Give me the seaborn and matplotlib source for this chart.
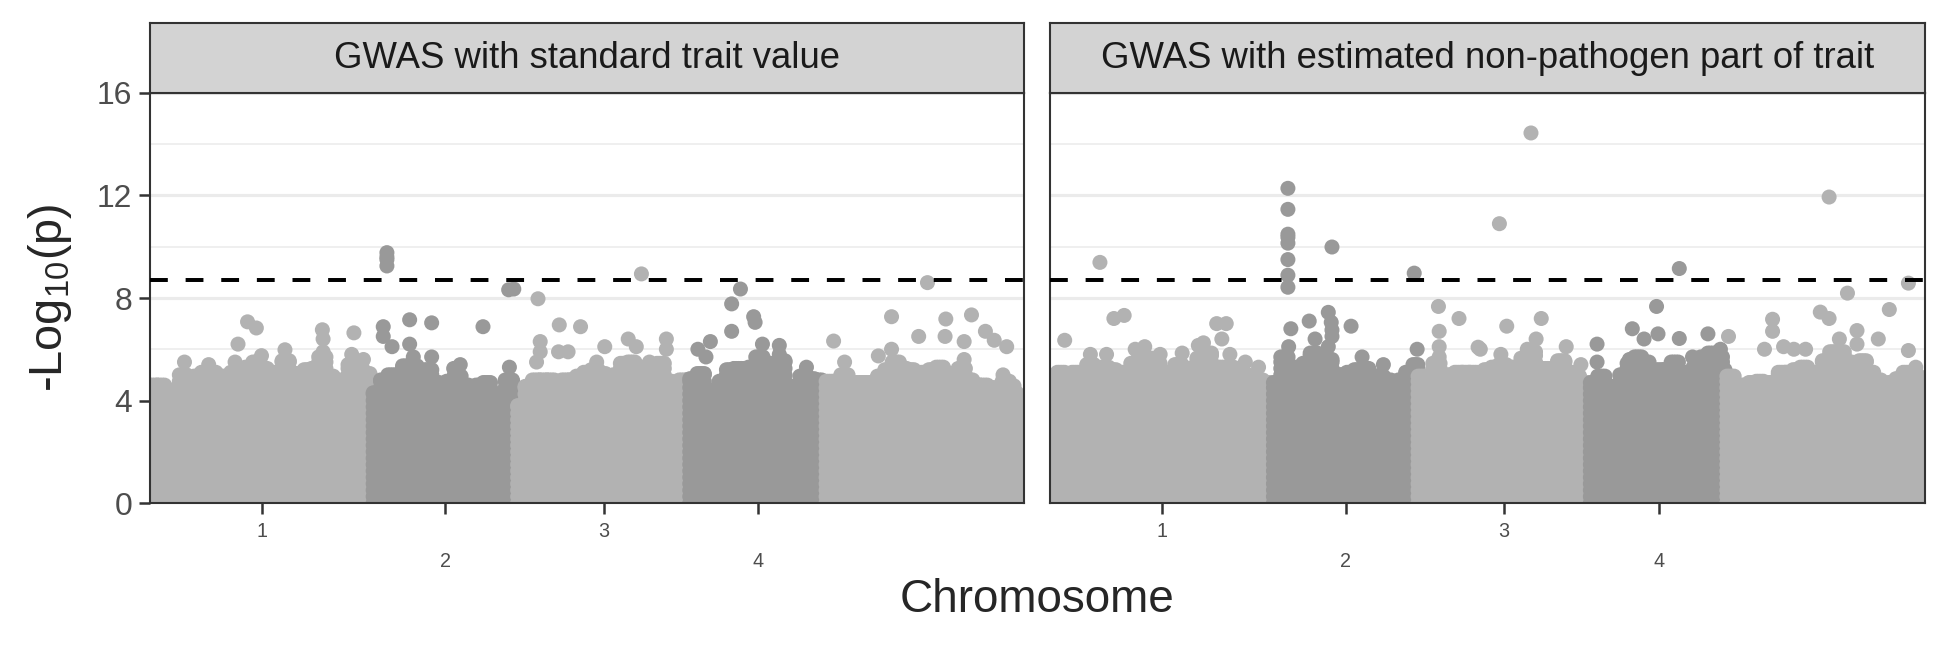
import numpy as np
import pandas as pd
import matplotlib
matplotlib.use("Agg")
import matplotlib.pyplot as plt
import matplotlib.transforms as mtransforms
import seaborn as sns

# Arabidopsis chromosome lengths (Mb)
chrom_len = [30.43, 19.70, 23.46, 18.59, 26.98]
tick_labels = ['1', '2', '3', '4']
threshold = 8.7
panel_titles = ['GWAS with standard trait value',
                'GWAS with estimated non-pathogen part of trait']

# top edge of the dense cloud of SNPs, one value per 1 Mb window, per chromosome
std_band = [
    [5.1, 5.1, 4.9, 4.9, 5.5, 5.3, 5.45, 5.6, 5.6, 5.45, 5.05, 5.6, 5.75, 5.8, 6.0, 5.75,
     5.5, 5.6, 6.05, 5.55, 5.55, 5.7, 5.75, 6.2, 5.45, 5.25, 5.3, 5.9, 5.75, 5.55, 5.05],
    [4.8, 5.3, 5.5, 5.3, 5.85, 5.85, 5.5, 5.7, 5.2, 4.9, 5.25, 5.45, 5.1, 5.05, 5.1, 5.2,
     4.75, 4.3, 5.3, 4.35],
    [4.3, 5.05, 5.3, 5.3, 5.3, 5.25, 5.3, 5.3, 5.45, 5.6, 5.7, 5.55, 5.45, 5.5, 5.95, 6.0,
     5.8, 5.5, 5.3, 5.95, 5.25, 5.1, 5.3, 5.3],
    [5.35, 5.55, 4.9, 4.9, 5.25, 5.7, 5.75, 5.75, 5.8, 6.2, 5.95, 5.75, 6.05, 4.9, 5.05,
     5.45, 5.35, 5.3, 5.2],
    [5.25, 5.2, 5.5, 5.1, 5.2, 5.2, 5.1, 5.45, 5.7, 6.0, 5.75, 5.7, 5.5, 5.6, 5.7, 5.8,
     5.45, 5.55, 5.75, 5.3, 5.1, 5.1, 5.0, 4.9, 5.25, 4.8, 4.3],
]
npp_band = [
    [5.0, 5.6, 5.2, 5.6, 5.5, 5.9, 5.7, 5.8, 5.7, 5.6, 5.45, 5.95, 6.15, 6.15, 5.95, 5.45,
     5.6, 5.9, 5.75, 5.5, 6.15, 6.35, 5.75, 5.8, 5.8, 5.3, 5.5, 5.35, 5.3, 5.2, 5.1],
    [5.2, 6.2, 5.8, 5.7, 5.95, 6.35, 6.15, 6.1, 5.5, 5.5, 5.6, 5.7, 5.75, 5.45, 5.45, 5.3,
     5.1, 5.3, 5.6, 5.9],
    [5.45, 5.05, 5.95, 5.45, 5.5, 5.6, 5.6, 5.6, 5.45, 5.7, 5.8, 5.9, 5.8, 5.5, 6.15, 6.4,
     5.7, 5.75, 5.6, 6.05, 5.6, 5.45, 5.2, 4.95],
    [5.2, 5.45, 4.95, 5.05, 5.5, 5.95, 6.2, 6.0, 5.6, 5.7, 5.7, 6.0, 5.6, 5.55, 5.8, 6.2,
     6.35, 6.2, 5.7],
    [5.45, 5.05, 5.1, 5.2, 5.25, 5.2, 5.2, 5.6, 5.6, 5.7, 5.8, 5.45, 5.6, 6.05, 6.4, 6.4,
     6.0, 5.6, 6.05, 5.6, 5.3, 5.1, 5.2, 5.35, 5.6, 5.5, 5.0],
]

# SNPs standing out above the cloud: cumulative position (Mb) and -log10(p)
std_pos = [13.3, 14.5, 12.0, 4.7, 23.5, 23.6, 27.8, 18.4, 27.5, 11.6, 15.2, 8.0, 29.1, 23.6,
           32.3, 32.3, 32.3, 32.3, 31.8, 31.8, 33.0, 35.4, 35.4, 35.9, 38.4, 38.4, 42.3,
           45.4, 48.9, 49.6, 49.0, 49.0, 41.4,
           52.9, 53.2, 53.2, 52.7, 55.8, 55.7, 57.0, 58.7, 62.0, 65.2, 66.3, 70.4, 70.4,
           67.0, 60.9, 68.1,
           74.7, 76.4, 75.8, 79.3, 79.3, 80.5, 82.3, 82.5, 83.5, 85.8, 85.8, 89.5,
           93.2, 94.7, 99.3, 101.1, 101.1, 104.8, 106.0, 108.4, 108.5, 111.0, 111.0,
           112.0, 113.9, 115.1, 116.8, 116.3, 117.8]
std_val = [7.07, 6.83, 6.2, 5.5, 6.76, 6.4, 6.64, 5.98, 5.8, 5.5, 5.75, 5.4, 5.6, 5.9,
           9.77, 9.6, 9.5, 9.25, 6.88, 6.5, 6.1, 7.15, 6.2, 5.7, 7.03, 5.7, 5.4,
           6.88, 8.32, 8.35, 5.3, 4.7, 5.25,
           7.97, 6.3, 5.9, 5.5, 6.95, 5.9, 5.9, 6.88, 6.1, 6.4, 6.1, 6.4, 6.0,
           8.94, 5.5, 5.5,
           6.0, 6.3, 5.7, 7.77, 6.7, 8.35, 7.27, 7.05, 6.2, 6.15, 5.8, 5.3,
           6.32, 5.5, 5.74, 7.27, 6.0, 6.5, 8.6, 6.5, 7.18, 6.3, 5.6,
           7.34, 6.7, 6.35, 6.1, 5.0, 4.57]

npp_pos = [2.0, 5.5, 6.8, 8.7, 10.1, 7.7, 11.6, 12.9, 15.0, 18.0, 20.2, 20.9, 22.7, 24.0,
           23.4, 24.5, 26.6, 28.4,
           32.4, 32.4, 32.4, 32.4, 32.4, 32.4, 32.4, 32.4, 32.8, 35.3, 37.9, 38.3, 38.4,
           41.0, 38.4, 37.9, 36.1, 38.4, 49.6, 50.0, 32.5, 42.5, 45.4,
           52.9, 55.7, 53.0, 58.3, 53.0, 53.0, 61.2, 65.5, 62.2, 66.9, 66.2, 70.3, 65.0,
           61.4, 72.3, 58.6,
           74.5, 74.5, 79.3, 80.9, 82.6, 82.8, 85.7, 85.7, 89.6, 91.3, 90.4, 78.9, 87.5,
           92.4, 97.3, 98.4, 98.4, 99.9, 101.3, 102.9, 104.9, 106.1, 106.1, 107.5, 108.6,
           109.9, 109.9, 112.8, 114.3, 116.9, 116.9, 117.9]
npp_val = [6.35, 5.8, 9.39, 7.2, 7.32, 5.8, 6.0, 6.1, 5.8, 5.85, 6.15, 6.25, 7.0, 7.0,
           6.4, 5.8, 5.5, 5.3,
           12.28, 11.46, 10.49, 10.37, 10.14, 9.5, 8.89, 8.42, 6.8, 7.1, 7.44, 7.05, 6.75,
           6.9, 6.5, 6.1, 6.4, 9.99, 8.97, 6.0, 6.1, 5.7, 5.4,
           7.67, 7.2, 6.7, 6.08, 6.1, 5.7, 10.9, 14.44, 6.9, 7.2, 6.4, 6.1, 6.0,
           5.8, 5.4, 6.0,
           6.2, 5.5, 6.8, 6.4, 7.67, 6.6, 9.15, 6.42, 6.6, 6.0, 5.7, 5.6, 5.7,
           6.5, 6.0, 7.17, 6.7, 6.1, 6.0, 6.0, 7.45, 7.2, 11.94, 6.4, 8.19,
           6.73, 6.2, 6.4, 7.55, 5.95, 8.58, 5.3]

chrom_end = np.cumsum(chrom_len)
chrom_start = chrom_end - np.array(chrom_len)
chrom_mid = (chrom_start + chrom_end) / 2

LIGHT, DARK = '#B2B2B2', '#999999'
INSET = 0.5  # band edge is the outer rim of loosely packed dots


def build_frame(band, pos, val):
    rows = []
    for c, tops in enumerate(band):
        for i, top in enumerate(tops):
            lo = chrom_start[c] + i
            hi = chrom_start[c] + min(i + 1, chrom_len[c])
            ys = list(np.arange(0, top - INSET, 0.25)) + [top - INSET]
            for x in np.arange(lo, hi, 0.33):
                for y in ys:
                    rows.append((c, x, y))
    for x, y in zip(pos, val):
        c = int(np.searchsorted(chrom_end, x))
        rows.append((c, x, y))
    df = pd.DataFrame(rows, columns=['chrom', 'pos', 'logp'])
    df = df.sort_values('chrom', kind='stable')
    df['shade'] = np.where(df['chrom'] % 2 == 0, 'odd', 'even')
    return df


frames = [build_frame(std_band, std_pos, std_val),
          build_frame(npp_band, npp_pos, npp_val)]

sns.set_theme(style='white')
plt.rcParams['font.family'] = ['Liberation Sans', 'DejaVu Sans']
plt.rcParams['mathtext.default'] = 'regular'

W, H = 1948, 649
fig = plt.figure(figsize=(W / 150, H / 150), dpi=150)


def box(x0, y0, x1, y1):
    return [x0 / W, 1 - y1 / H, (x1 - x0) / W, (y1 - y0) / H]


panel_boxes = [box(150, 93, 1024, 503), box(1050, 93, 1925, 503)]
strip_boxes = [box(150, 23, 1024, 93), box(1050, 23, 1925, 93)]

for k, (df, title) in enumerate(zip(frames, panel_titles)):
    ax = fig.add_axes(panel_boxes[k])
    ax.set_axisbelow(True)
    ax.set_yticks([0, 4, 8, 12, 16])
    ax.set_yticks([2, 6, 10, 14], minor=True)
    ax.grid(axis='y', which='major', color='#EBEBEB', lw=1.5)
    ax.grid(axis='y', which='minor', color='#EBEBEB', lw=0.75)
    ax.grid(axis='x', visible=False)

    sns.scatterplot(data=df, x='pos', y='logp', hue='shade',
                    palette={'odd': LIGHT, 'even': DARK}, s=52, linewidth=0,
                    legend=False, ax=ax, zorder=2)
    ax.axhline(threshold, color='black', lw=1.9, dashes=(4.5, 4.5), zorder=3)

    ax.set_xlim(0, chrom_end[-1])
    ax.set_ylim(0, 16)
    ax.set_xlabel('')
    ax.set_ylabel('')
    for sp in ax.spines.values():
        sp.set_color('#333333')
        sp.set_linewidth(1.0)

    ax.set_xticks(chrom_mid[:4], tick_labels)
    ax.tick_params(axis='x', which='major', length=5.5, width=1.2, color='#333333',
                   labelsize=9.5, labelcolor='#4D4D4D', pad=3.5, bottom=True)
    off = mtransforms.ScaledTranslation(0, -0.2, fig.dpi_scale_trans)
    for j, lab in enumerate(ax.get_xticklabels()):
        if j % 2 == 1:
            lab.set_transform(lab.get_transform() + off)
    if k == 0:
        ax.tick_params(axis='y', which='major', length=5.5, width=1.2, color='#333333',
                       labelsize=15.3, labelcolor='#4D4D4D', pad=3, left=True)
    else:
        ax.tick_params(axis='y', which='both', left=False, labelleft=False)
    ax.tick_params(axis='y', which='minor', left=False)

    sx = fig.add_axes(strip_boxes[k])
    sx.set_facecolor('#D3D3D3')
    sx.set_xticks([])
    sx.set_yticks([])
    for sp in sx.spines.values():
        sp.set_color('#333333')
        sp.set_linewidth(1.0)
    sx.text(0.5, 0.5, title, ha='center', va='center', fontsize=17.5,
            color='#1A1A1A', transform=sx.transAxes)

fig.text(1037 / W, 1 - 600 / H, 'Chromosome', ha='center', va='center', fontsize=22)
fig.text(50 / W, 1 - 298 / H, r'-Log$_{10}$(p)', ha='center', va='center',
         rotation=90, fontsize=22.5)

fig.savefig('out.png', dpi=150)
